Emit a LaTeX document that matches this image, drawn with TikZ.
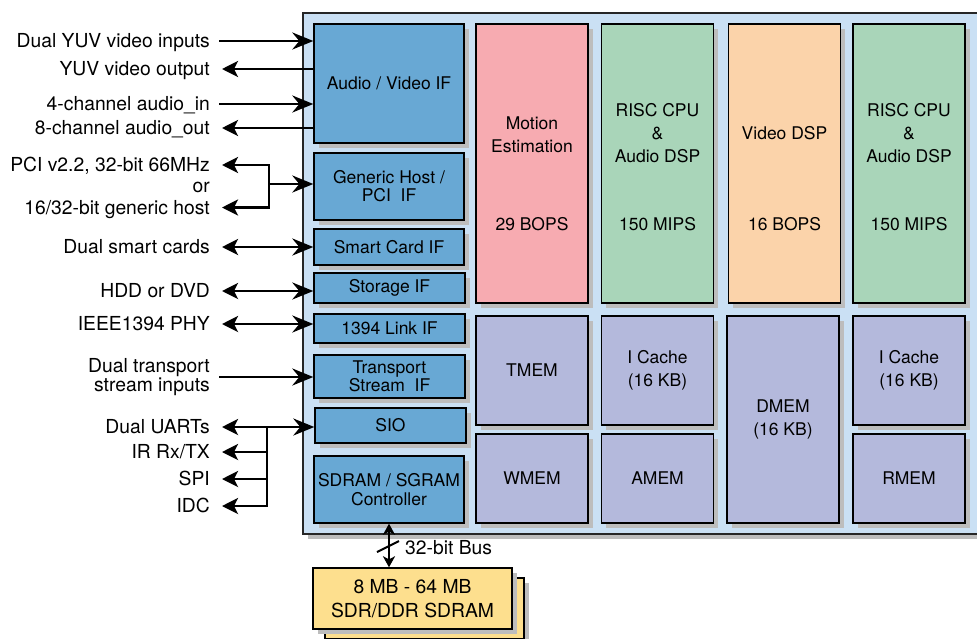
\documentclass[tikz,border=0pt]{standalone}
\usepackage{fontspec}
\setmainfont{TeX Gyre Heros}
\usetikzlibrary{arrows.meta,shadows}
\definecolor{outerbg}{HTML}{CAE0F4}
\definecolor{ifblue}{HTML}{68A8D4}
\definecolor{mepink}{HTML}{F7ABB1}
\definecolor{cpugreen}{HTML}{A9D5B9}
\definecolor{dsporange}{HTML}{FBD3AA}
\definecolor{memlav}{HTML}{B4B9DC}
\definecolor{chipyel}{HTML}{FDDF8E}
\definecolor{shadowgray}{HTML}{BDBDBD}
\newcommand\blkfont{\fontsize{17.5}{18}\selectfont}
\newcommand\procfont{\fontsize{17.5}{23}\selectfont}
\newcommand\lblfont{\fontsize{19.3}{20.5}\selectfont}
\newcommand\chipfont{\fontsize{19.3}{24}\selectfont}
\tikzset{
  bigtip/.tip={Stealth[length=21pt,width=17pt,inset=7pt]},
  smalltip/.tip={Stealth[length=16pt,width=16pt,inset=4pt]},
  bustip/.tip={Stealth[length=11pt,width=12pt,inset=3pt]},
  shad/.style={drop shadow={shadow xshift=4.5pt,shadow yshift=-4.5pt,fill=shadowgray,opacity=1}},
  blk/.style={draw=black,line width=1.4pt,inner sep=0pt,align=center,font=\blkfont,shad},
  proc/.style={blk,font=\procfont},
  txt/.style={font=\procfont,align=center,inner sep=0pt},
  lbl/.style={font=\lblfont,inner sep=0pt,anchor=east,align=right,text height=13.6pt,text depth=0pt},
  lbltwo/.style={font=\fontsize{19.3}{19}\selectfont,inner sep=0pt,anchor=east,align=right},
  conn/.style={line width=2.8pt,draw=black},
}
\begin{document}
\begin{tikzpicture}[x=1pt,y=-1pt]
\useasboundingbox (0,0) rectangle (977,638);
% outer chip area
\node[draw=black!85,line width=1.5pt,fill=outerbg,inner sep=0pt,minimum width=720pt,minimum height=521pt,anchor=north west,
  drop shadow={shadow xshift=5pt,shadow yshift=-5pt,fill=shadowgray,opacity=1}] (soc) at (302,12) {};
% interface blocks
\node[blk,fill=ifblue,minimum width=150pt,minimum height=119pt] (av) at (389,83.5) {Audio / Video IF};
\node[blk,fill=ifblue,minimum width=150pt,minimum height=67pt] (host) at (389,186.5) {Generic Host /\\PCI\ \ IF};
\node[blk,fill=ifblue,minimum width=150pt,minimum height=36pt] (smart) at (389,247) {Smart Card IF};
\node[blk,fill=ifblue,minimum width=151pt,minimum height=30pt] (stor) at (389.5,288) {Storage IF};
\node[blk,fill=ifblue,minimum width=151pt,minimum height=29pt] (link) at (389.5,328.5) {1394 Link IF};
\node[blk,fill=ifblue,minimum width=151pt,minimum height=43pt] (ts) at (389.5,376.5) {Transport\\Stream\ \ IF};
\node[blk,fill=ifblue,minimum width=151pt,minimum height=35pt] (sio) at (390.5,425.5) {SIO};
\node[blk,fill=ifblue,minimum width=150pt,minimum height=67pt] (sdram) at (389,489.5) {SDRAM / SGRAM\\[1pt]Controller};
% processors
\node[proc,fill=mepink,minimum width=112pt,minimum height=279pt] (me) at (532,163.5) {};
\node[txt] (metop) at (532,134.5) {Motion\\Estimation};
\node[txt] (mebot) at (532,224) {29 BOPS};
\node[proc,fill=cpugreen,minimum width=112pt,minimum height=279pt] (cpua) at (657.5,163.5) {};
\node[txt] (cpuatop) at (657.5,133) {RISC CPU\\\&\\Audio DSP};
\node[txt] (cpuabot) at (657.5,224) {150 MIPS};
\node[proc,fill=dsporange,minimum width=112pt,minimum height=279pt] (vdsp) at (784.5,163.5) {};
\node[txt] (vdsptop) at (784.5,133) {Video DSP};
\node[txt] (vdspbot) at (784.5,224) {16 BOPS};
\node[proc,fill=cpugreen,minimum width=112pt,minimum height=279pt] (cpub) at (909,163.5) {};
\node[txt] (cpubtop) at (909,133) {RISC CPU\\\&\\Audio DSP};
\node[txt] (cpubbot) at (909,224) {150 MIPS};
% memories
\node[proc,fill=memlav,minimum width=112pt,minimum height=109pt] (tmem) at (532,370.5) {TMEM};
\node[proc,fill=memlav,minimum width=112pt,minimum height=89pt] (wmem) at (532,478.5) {WMEM};
\node[proc,fill=memlav,minimum width=112pt,minimum height=109pt] (ica) at (657.5,370.5) {I Cache\\(16 KB)};
\node[proc,fill=memlav,minimum width=112pt,minimum height=89pt] (amem) at (657.5,478.5) {AMEM};
\node[proc,fill=memlav,minimum width=112pt,minimum height=207pt] (dmem) at (783,419.5) {DMEM\\(16 KB)};
\node[proc,fill=memlav,minimum width=112pt,minimum height=109pt] (icb) at (909,370.5) {I Cache\\(16 KB)};
\node[proc,fill=memlav,minimum width=112pt,minimum height=89pt] (rmem) at (909,478.5) {RMEM};
% external memory
\node[blk,fill=chipyel,minimum width=199pt,minimum height=61pt] (chipb) at (424.5,608.5) {};
\node[blk,fill=chipyel,minimum width=199pt,minimum height=61pt,font=\chipfont] (chip) at (412.5,598.5) {8 MB - 64 MB\\SDR/DDR SDRAM};
\draw[conn,bustip-bustip] (sdram.south) -- (sdram.south |- chip.north);
\coordinate (busmid) at (388,546.5);
\draw[line width=2pt] ([shift={(-11,5.5)}]busmid) -- ([shift={(11,-5.5)}]busmid);
\node[lbl,anchor=west] (buslbl) at (405,548) {32-bit Bus};
% left labels and arrows
\node[lbl] (l1) at (210,41) {Dual YUV video inputs};
\draw[conn,-bigtip] ([xshift=9pt]l1.east) -- (l1.east -| av.west);
\node[lbl] (l2) at (210,69) {YUV video output};
\draw[conn,-smalltip] (l2.east -| av.west) -- ([xshift=12pt]l2.east);
\node[lbl] (l3) at (210,104) {4-channel audio\_in};
\draw[conn,-bigtip] ([xshift=9pt]l3.east) -- (l3.east -| av.west);
\node[lbl] (l4) at (210,128) {8-channel audio\_out};
\draw[conn,-smalltip] (l4.east -| av.west) -- ([xshift=12pt]l4.east);
\node[lbl] (p1) at (210,165) {PCI v2.2, 32-bit 66MHz};
\node[lbl] (p2) at (210,186) {or};
\node[lbl] (p3) at (210,207.5) {16/32-bit generic host};
\coordinate (pj) at (269,184);
\draw[conn,smalltip-smalltip] ([xshift=12pt]p1.east) -- (p1.east -| pj) -- (p3.east -| pj) -- ([xshift=12pt]p3.east);
\draw[conn,-bigtip] (pj) -- (pj -| host.west);
\node[lbl] (sc) at (210,247) {Dual smart cards};
\draw[conn,smalltip-bigtip] ([xshift=12pt]sc.east) -- (sc.east -| smart.west);
\node[lbl] (hdd) at (210,291) {HDD or DVD};
\draw[conn,smalltip-bigtip] ([xshift=12pt]hdd.east) -- (hdd.east -| stor.west);
\node[lbl] (phy) at (210,324) {IEEE1394 PHY};
\draw[conn,smalltip-bigtip] ([xshift=12pt]phy.east) -- (phy.east -| link.west);
\node[lbltwo] (tsl) at (210,377) {Dual transport\\stream inputs};
\draw[conn,-bigtip] ([xshift=9pt]tsl.east) -- (tsl.east -| ts.west);
\node[lbl] (u1) at (210,427) {Dual UARTs};
\node[lbl] (u2) at (210,452) {IR Rx/TX};
\node[lbl] (u3) at (210,479) {SPI};
\node[lbl] (u4) at (210,506) {IDC};
\coordinate (uj) at (267,427);
\draw[conn,smalltip-bigtip] ([xshift=12pt]u1.east) -- (u1.east -| sio.west);
\draw[conn,-smalltip] (uj) -- (u4.east -| uj) -- ([xshift=12pt]u4.east);
\draw[conn,-smalltip] (u2.east -| uj) -- ([xshift=12pt]u2.east);
\draw[conn,-smalltip] (u3.east -| uj) -- ([xshift=12pt]u3.east);
\end{tikzpicture}
\end{document}
